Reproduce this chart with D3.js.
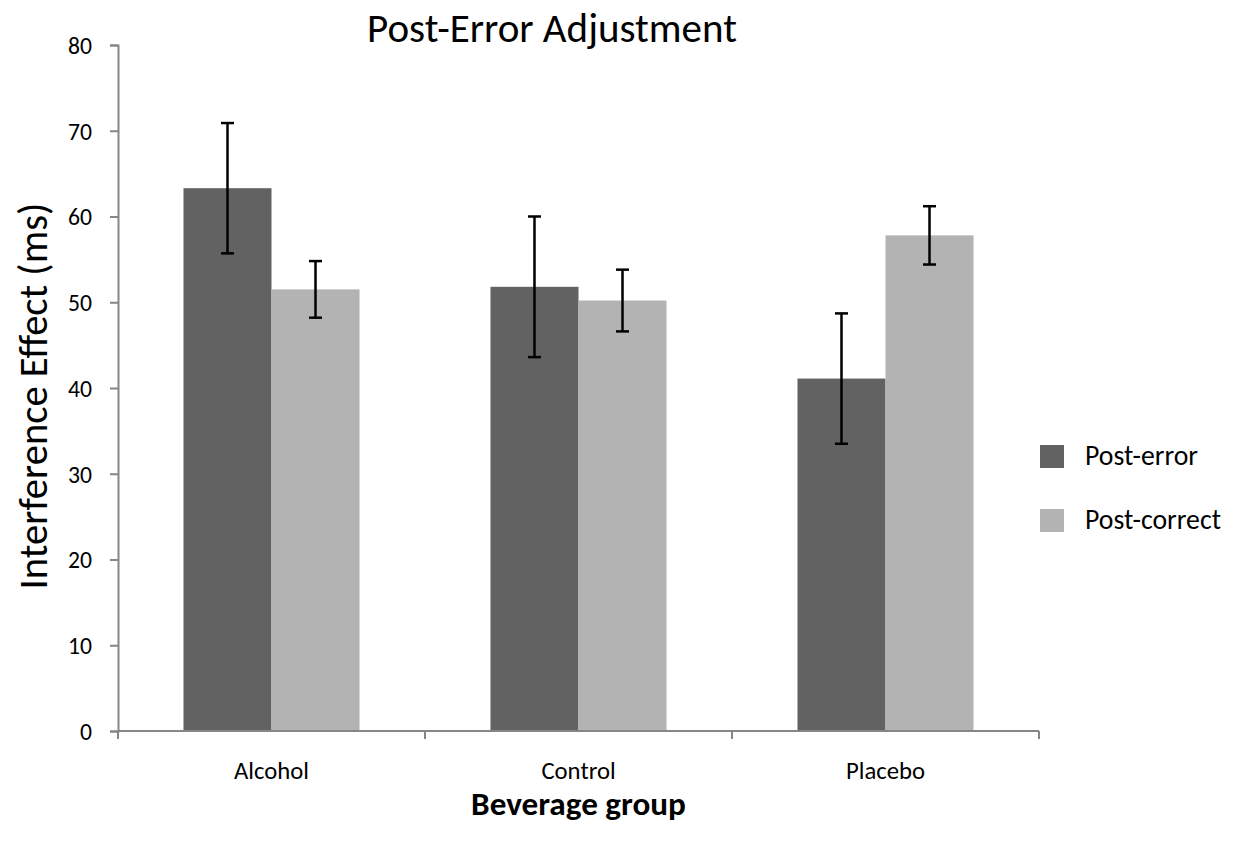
<!DOCTYPE html>
<html>
<head>
<meta charset="utf-8">
<script src="https://cdn.jsdelivr.net/npm/d3@7"></script>
<style>
  html, body { margin: 0; padding: 0; background: #fff; }
  svg { display: block; font-family: Carlito, Lato, "Open Sans", sans-serif; }
  text { font-family: Carlito, Lato, "Open Sans", sans-serif; }
</style>
</head>
<body>
<svg id="chart" width="1242" height="842"></svg>
<script>
const categories = ["Alcohol", "Control", "Placebo"];
const seriesNames = ["Post-error", "Post-correct"];
const postError = [63.3, 51.8, 41.1];
const postErrorErr = [7.6, 8.2, 7.6];
const postCorrect = [51.5, 50.2, 57.8];
const postCorrectErr = [3.3, 3.6, 3.4];
const yTicks = [0, 10, 20, 30, 40, 50, 60, 70, 80];
const colors = ["#626262", "#b3b3b3"];

const svg = d3.select("#chart");
const mLeft = 118, mRight = 1039, mTop = 45, mBottom = 731;

// size a text so that its width matches a target width
function fitSize(str, target, weight) {
  const t = svg.append("text").attr("font-size", 100).attr("font-weight", weight || "normal").text(str);
  const w = t.node().getComputedTextLength();
  t.remove();
  return 100 * target / w;
}

const x = d3.scaleBand().domain(categories).range([mLeft, mRight]).paddingInner(0).paddingOuter(0);
const xs = d3.scaleBand().domain(seriesNames).range([0, x.bandwidth()]).paddingInner(0).paddingOuter(0.744);
const y = d3.scaleLinear().domain([0, 80]).range([mBottom, mTop]);

const data = categories.map((c, i) => ({
  cat: c,
  vals: [
    { s: seriesNames[0], v: postError[i], e: postErrorErr[i] },
    { s: seriesNames[1], v: postCorrect[i], e: postCorrectErr[i] }
  ]
}));

// Bars
const groups = svg.append("g").selectAll("g").data(data).join("g")
  .attr("transform", d => `translate(${x(d.cat)},0)`);
groups.selectAll("rect").data(d => d.vals).join("rect")
  .attr("x", d => xs(d.s))
  .attr("width", xs.bandwidth())
  .attr("y", d => y(d.v))
  .attr("height", d => y(0) - y(d.v))
  .attr("fill", (d, i) => colors[i]);

// Error bars
const eb = groups.selectAll("g.err").data(d => d.vals).join("g").attr("class", "err");
eb.append("line")
  .attr("x1", d => xs(d.s) + xs.bandwidth() / 2)
  .attr("x2", d => xs(d.s) + xs.bandwidth() / 2)
  .attr("y1", d => y(d.v + d.e))
  .attr("y2", d => y(d.v - d.e))
  .attr("stroke", "#000").attr("stroke-width", 2.5);
[1, -1].forEach(sgn => {
  eb.append("line")
    .attr("x1", d => xs(d.s) + xs.bandwidth() / 2 - 6.5)
    .attr("x2", d => xs(d.s) + xs.bandwidth() / 2 + 6.5)
    .attr("y1", d => y(d.v + sgn * d.e))
    .attr("y2", d => y(d.v + sgn * d.e))
    .attr("stroke", "#000").attr("stroke-width", 2.5);
});

// Y axis
const tickFs = fitSize("60", 24);
const yAxis = d3.axisLeft(y).tickValues(yTicks).tickSize(8).tickPadding(18).tickFormat(d3.format("d"));
const gy = svg.append("g").attr("transform", `translate(${mLeft},0)`).call(yAxis);
gy.attr("font-family", null);
gy.select(".domain").attr("stroke", "#868686").attr("stroke-width", 2);
gy.selectAll(".tick line").attr("stroke", "#868686").attr("stroke-width", 2);
gy.selectAll(".tick text").attr("font-size", tickFs).attr("fill", "#000").attr("dy", "0.35em");

// X axis
const catFs = fitSize("Alcohol", 75);
const xAxis = d3.axisBottom(x).tickSize(0).tickPadding(39);
const gx = svg.append("g").attr("transform", `translate(0,${mBottom})`).call(xAxis);
gx.attr("font-family", null);
gx.select(".domain").attr("stroke", "#868686").attr("stroke-width", 2).attr("d", `M${mLeft},0H${mRight}`);
gx.selectAll(".tick text").attr("font-size", catFs).attr("fill", "#000").attr("dy", "0.35em");
// category boundary ticks
const bounds = categories.map(c => x(c)).concat([x(categories[categories.length - 1]) + x.bandwidth()]);
gx.selectAll("line.bt").data(bounds).join("line").attr("class", "bt")
  .attr("x1", d => d).attr("x2", d => d).attr("y1", 0).attr("y2", 8)
  .attr("stroke", "#868686").attr("stroke-width", 2);

// Title
svg.append("text").attr("x", 552).attr("y", 42).attr("text-anchor", "middle")
  .attr("font-size", fitSize("Post-Error Adjustment", 370)).attr("fill", "#000").text("Post-Error Adjustment");

// Y label
svg.append("text").attr("transform", `translate(47,396) rotate(-90)`)
  .attr("text-anchor", "middle").attr("font-size", fitSize("Interference Effect (ms)", 387)).attr("fill", "#000")
  .text("Interference Effect (ms)");

// X label
svg.append("text").attr("x", (mLeft + mRight) / 2).attr("y", 815).attr("text-anchor", "middle")
  .attr("font-size", fitSize("Beverage group", 215, "bold")).attr("font-weight", "bold").attr("fill", "#000").text("Beverage group");

// Legend
const legFs = fitSize("Post-correct", 136);
const lg = svg.append("g").selectAll("g").data(seriesNames).join("g")
  .attr("transform", (d, i) => `translate(1040,${445 + i * 64})`);
lg.append("rect").attr("width", 24).attr("height", 23).attr("fill", (d, i) => colors[i]);
lg.append("text").attr("x", 45).attr("y", 20).attr("font-size", legFs).attr("fill", "#000").text(d => d);
</script>
</body>
</html>
